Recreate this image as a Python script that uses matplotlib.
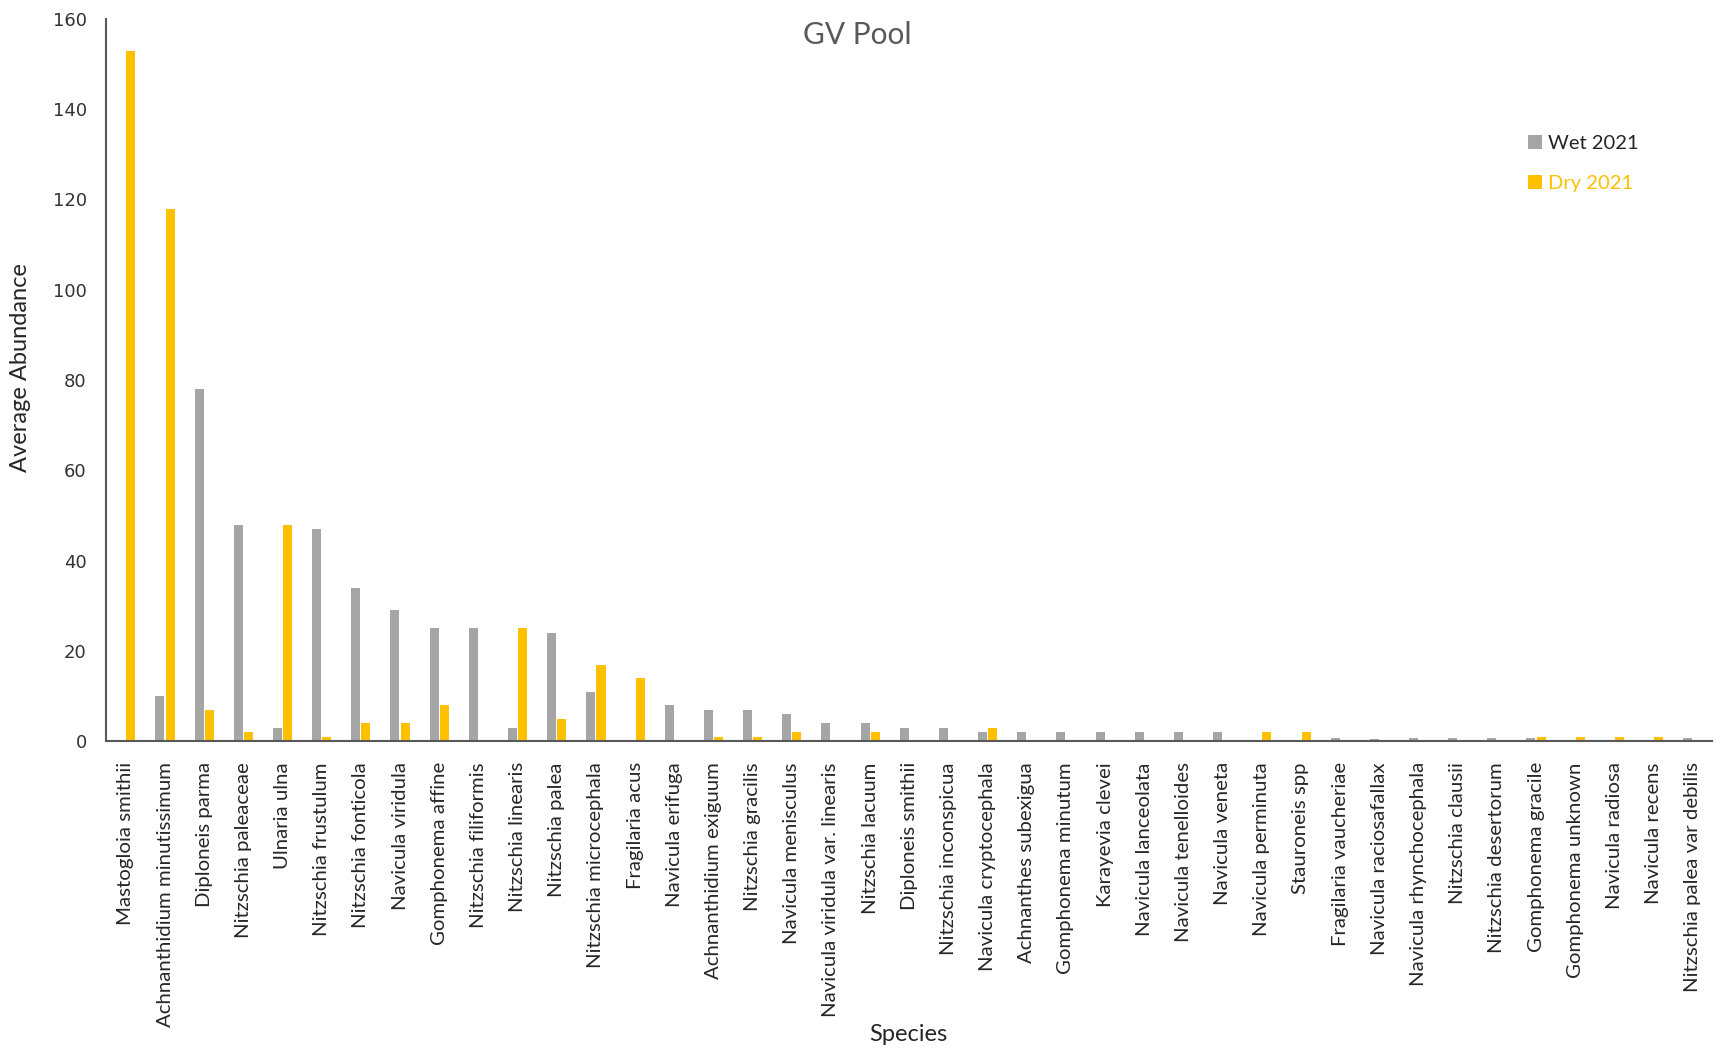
import numpy as np
import matplotlib
matplotlib.use('Agg')
import matplotlib.pyplot as plt

# Data
species = ['Mastogloia smithii', 'Achnanthidium minutissimum', 'Diploneis parma',
           'Nitzschia paleaceae', 'Ulnaria ulna', 'Nitzschia frustulum',
           'Nitzschia fonticola', 'Navicula viridula', 'Gomphonema affine',
           'Nitzschia filiformis', 'Nitzschia linearis', 'Nitzschia palea',
           'Nitzschia microcephala', 'Fragilaria acus', 'Navicula erifuga',
           'Achnanthidium exiguum', 'Nitzschia gracilis', 'Navicula menisculus',
           'Navicula viridula var. linearis', 'Nitzschia lacuum', 'Diploneis smithii',
           'Nitzschia inconspicua', 'Navicula cryptocephala', 'Achnanthes subexigua',
           'Gomphonema minutum', 'Karayevia clevei', 'Navicula lanceolata',
           'Navicula tenelloides', 'Navicula veneta', 'Navicula perminuta',
           'Stauroneis spp', 'Fragilaria vaucheriae', 'Navicula raciosafallax',
           'Navicula rhynchocephala', 'Nitzschia clausii', 'Nitzschia desertorum',
           'Gomphonema gracile', 'Gomphonema unknown', 'Navicula radiosa',
           'Navicula recens', 'Nitzschia palea var debilis']
wet_2021 = [0, 10, 78, 48, 3, 47, 34, 29, 25, 25, 3, 24, 11, 0, 8, 7, 7, 6, 4, 4, 3,
            3, 2, 2, 2, 2, 2, 2, 2, 0, 0, 0.7, 0.6, 0.7, 0.7, 0.7, 0.7, 0, 0, 0, 0.7]
dry_2021 = [153, 118, 7, 2, 48, 1, 4, 4, 8, 0, 25, 5, 17, 14, 0, 1, 1, 2, 0, 2, 0,
            0, 3, 0, 0, 0, 0, 0, 0, 2, 2, 0, 0, 0, 0, 0, 0.9, 0.9, 0.9, 0.9, 0]
yticks = [0, 20, 40, 60, 80, 100, 120, 140, 160]

grey = '#A5A5A5'
gold = '#FFC000'
axis_col = '#595959'

fig = plt.figure(figsize=(17.14, 10.5), dpi=100)
ax = fig.add_axes([0.062, 0.294, 0.937, 0.688])

x = np.arange(len(species))
w = 0.23
ax.bar(x - 0.13, wet_2021, width=w, color=grey, label='Wet 2021')
ax.bar(x + 0.13, dry_2021, width=w, color=gold, label='Dry 2021')

ax.set_xlim(-0.5, len(species) - 0.5)
ax.set_ylim(0, 160)
ax.set_yticks(yticks)
ax.set_yticklabels([str(t) for t in yticks], family='DejaVu Sans', fontsize=13, color='#333333')
ax.set_xticks(x)
ax.set_xticklabels(species, rotation=90, family='Lato', fontsize=14.7, color='#262626')
ax.tick_params(axis='x', length=0, pad=15)
ax.tick_params(axis='y', length=0, pad=14)

for s in ['top', 'right']:
    ax.spines[s].set_visible(False)
for s in ['left', 'bottom']:
    ax.spines[s].set_color(axis_col)
    ax.spines[s].set_linewidth(1.5)

ax.set_ylabel('Average Abundance', family='Lato', fontsize=17, color='#262626')
ax.yaxis.set_label_coords(-0.047, 0.517)
fig.text(0.530, 0.0152, 'Species', family='Lato', fontsize=17, color='#262626', ha='center', va='center')
fig.text(0.500, 0.967, 'GV Pool', family='Lato', fontsize=21.5, color='#595959', ha='center', va='center')

leg = ax.legend(loc='upper left', bbox_to_anchor=(0.874, 0.865), frameon=False,
                handlelength=0.7, handleheight=0.7, handletextpad=0.3,
                labelspacing=1.15, prop={'family': 'Lato', 'size': 14.5})
leg.get_texts()[0].set_color('#262626')
leg.get_texts()[1].set_color(gold)

fig.savefig('out.png', dpi=100)
